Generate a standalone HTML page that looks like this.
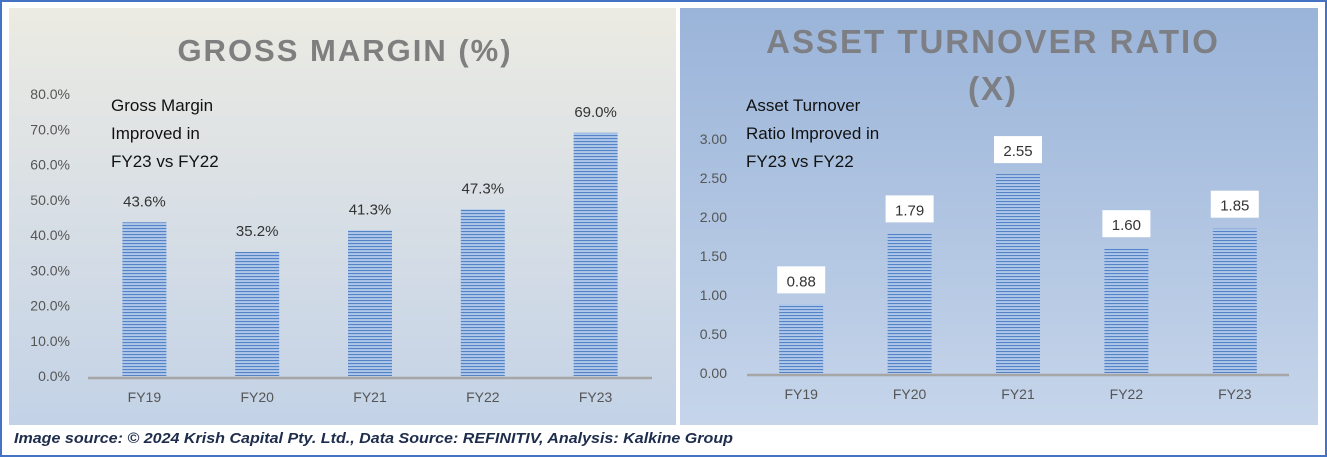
<!DOCTYPE html>
<html><head><meta charset="utf-8"><style>
body{margin:0;width:1327px;height:457px;overflow:hidden;background:#fff;font-family:"Liberation Sans",sans-serif}
svg{display:block}
</style></head><body>
<svg width="1327" height="457">
<defs>
<linearGradient id="gl" x1="0" y1="0" x2="0" y2="1"><stop offset="0" stop-color="#ecebe3"/><stop offset="1" stop-color="#c3d2e7"/></linearGradient>
<linearGradient id="gr" x1="0" y1="0" x2="0" y2="1"><stop offset="0" stop-color="#9ab4d9"/><stop offset="1" stop-color="#c6d5ea"/></linearGradient>
<pattern id="st" width="4" height="3" patternUnits="userSpaceOnUse"><rect width="4" height="3" fill="#afc7ea"/><rect width="4" height="1.1" fill="#5584c6"/></pattern>
</defs>
<rect x="1" y="1" width="1325" height="455" fill="#fff" stroke="#4472c4" stroke-width="2"/>
<rect x="9" y="8" width="667" height="417" fill="url(#gl)"/>
<rect x="680" y="8" width="638" height="417" fill="url(#gr)"/>
<text x="345" y="61" text-anchor="middle" font-size="31" font-weight="bold" fill="#7f7f7f" letter-spacing="2">GROSS MARGIN (%)</text>
<text x="993" y="53" text-anchor="middle" font-size="33" font-weight="bold" fill="#7d7f84" letter-spacing="2">ASSET TURNOVER RATIO</text>
<text x="993" y="100" text-anchor="middle" font-size="33" font-weight="bold" fill="#7d7f84" letter-spacing="2">(X)</text>
<g font-size="17" fill="#111">
<text x="111" y="111">Gross Margin</text><text x="111" y="139">Improved in</text><text x="111" y="167">FY23 vs FY22</text></g>
<g font-size="17" fill="#111">
<text x="746" y="111">Asset Turnover</text><text x="746" y="139">Ratio Improved in</text><text x="746" y="167">FY23 vs FY22</text></g>
<g id="left"></g><g id="right"></g>
<text x="14" y="443" font-size="15" font-weight="bold" font-style="italic" fill="#1f2d4d" textLength="719" lengthAdjust="spacingAndGlyphs">Image source: © 2024 Krish Capital Pty. Ltd., Data Source: REFINITIV, Analysis: Kalkine Group</text>
</svg>
<script>
const categories=["FY19","FY20","FY21","FY22","FY23"];
const grossMargin=[43.6,35.2,41.3,47.3,69.0];
const assetTurnover=[0.88,1.79,2.55,1.60,1.85];
const leftTicks=[0,10,20,30,40,50,60,70,80];
const rightTicks=[0,0.5,1,1.5,2,2.5,3];
const NS="http://www.w3.org/2000/svg";
function mk(p,t,a,txt){const e=document.createElementNS(NS,t);for(const k in a)e.setAttribute(k,a[k]);if(txt!=null)e.textContent=txt;p.appendChild(e);return e;}
function draw(g,vals,ticks,cfg){
  const y=v=>cfg.y0-(v-ticks[0])/(ticks[ticks.length-1]-ticks[0])*(cfg.y0-cfg.y1);
  const step=(cfg.x1-cfg.x0)/categories.length;
  ticks.forEach(t=>{const e=mk(g,"text",{x:cfg.tx,y:y(t)+5,"text-anchor":"end","font-size":14,fill:"#555"},cfg.fmtT(t));
    
    });
  vals.forEach((v,i)=>{const cx=cfg.x0+step*(i+0.5);
    const b=mk(g,"rect",{x:cx-22,y:y(v),width:44,height:y(0)-y(v),fill:"url(#st)"});
    
    
    if(cfg.box){const bx=mk(g,"rect",{x:cx-24,y:y(v)-38,width:48,height:27,fill:"#fff"});
      
      }
    const l=mk(g,"text",{x:cx,y:y(v)-(cfg.box?18:16),"text-anchor":"middle","font-size":15,fill:"#333"},cfg.fmtV(v));
    
    
    const c=mk(g,"text",{x:cx,y:cfg.y0+26,"text-anchor":"middle","font-size":14,fill:"#555"},categories[i]);
    
    });
  const a=mk(g,"line",{x1:cfg.x0,x2:cfg.x1,y1:y(0)+2,y2:y(0)+2,stroke:"#a6a6a6","stroke-width":2.5});
  
  
}
draw(document.getElementById("left"),grossMargin,leftTicks,{x0:88,x1:652,y0:376,y1:94,tx:70,fmtT:t=>t.toFixed(1)+"%",fmtV:v=>v.toFixed(1)+"%",box:false});
draw(document.getElementById("right"),assetTurnover,rightTicks,{x0:747,x1:1289,y0:373,y1:139,tx:727,fmtT:t=>t.toFixed(2),fmtV:v=>v.toFixed(2),box:true});
</script>
</body></html>
